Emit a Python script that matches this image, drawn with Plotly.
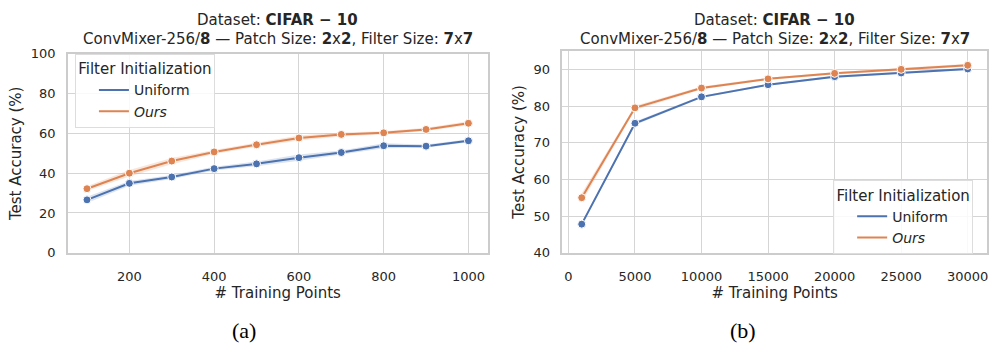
import plotly.graph_objects as go

# ---- data ----
x_a = [100, 200, 300, 400, 500, 600, 700, 800, 900, 1000]
uniform_a = [26.6, 34.9, 38.1, 42.3, 44.7, 47.8, 50.4, 53.8, 53.6, 56.3]
ours_a = [32.2, 40.0, 46.1, 50.7, 54.3, 57.7, 59.5, 60.3, 62.0, 65.1]
uniform_a_err = [1.6, 1.2, 1.0, 1.0, 1.2, 1.6, 1.0, 1.2, 0.8, 0.8]
ours_a_err = [1.2, 1.6, 1.6, 1.0, 1.0, 1.2, 1.0, 0.8, 0.8, 1.0]

x_b = [1000, 5000, 10000, 15000, 20000, 25000, 30000]
uniform_b = [47.8, 75.3, 82.5, 85.8, 88.0, 89.0, 90.1]
ours_b = [55.0, 79.5, 84.9, 87.4, 88.9, 90.0, 91.1]
uniform_b_err = [0.4, 0.5, 0.3, 0.3, 0.3, 0.3, 0.3]
ours_b_err = [1.2, 0.6, 0.4, 0.3, 0.3, 0.3, 0.4]

ticks_a_x = [200, 400, 600, 800, 1000]
ticks_a_y = [0, 20, 40, 60, 80, 100]
ticks_b_x = [0, 5000, 10000, 15000, 20000, 25000, 30000]
ticks_b_y = [40, 50, 60, 70, 80, 90]

series_names = ["Uniform", "<i>Ours</i>"]
colors = ["#4c72b0", "#dd8452"]
bands = ["rgba(76,114,176,0.2)", "rgba(221,132,82,0.2)"]

title_l1 = "Dataset: <b>CIFAR − 10</b>"
title_l2 = "ConvMixer-256/<b>8</b> — Patch Size: <b>2</b>x<b>2</b>, Filter Size: <b>7</b>x<b>7</b>"
captions = ["(a)", "(b)"]

W, H = 992, 343
FONT = "DejaVu Sans"
TXT = "#262626"

fig = go.Figure()


def add_panel(xs, ys_list, errs_list, xa, ya, legend_name):
    for i, (ys, errs) in enumerate(zip(ys_list, errs_list)):
        up = [y + e for y, e in zip(ys, errs)]
        lo = [y - e for y, e in zip(ys, errs)]
        fig.add_trace(go.Scatter(x=xs + xs[::-1], y=up + lo[::-1], fill="toself",
                                 fillcolor=bands[i], line=dict(width=0), mode="lines",
                                 hoverinfo="skip", showlegend=False, xaxis=xa, yaxis=ya))
    for i, ys in enumerate(ys_list):
        fig.add_trace(go.Scatter(x=xs, y=ys, mode="lines+markers", name=series_names[i],
                                 line=dict(color=colors[i], width=2),
                                 marker=dict(size=8, color=colors[i], line=dict(color="white", width=1)),
                                 showlegend=False, xaxis=xa, yaxis=ya))
    # legend entries (lines only, as in the reference)
    for i in range(len(ys_list)):
        fig.add_trace(go.Scatter(x=[None], y=[None], mode="lines", name=series_names[i],
                                 line=dict(color=colors[i], width=2),
                                 showlegend=True, legend=legend_name, xaxis=xa, yaxis=ya))


add_panel(x_a, [uniform_a, ours_a], [uniform_a_err, ours_a_err], "x", "y", "legend")
add_panel(x_b, [uniform_b, ours_b], [uniform_b_err, ours_b_err], "x2", "y2", "legend2")


def px_x(p):
    return p / W


def px_y(p):
    return 1 - p / H


common = dict(showgrid=True, gridcolor="#d5d5d5", gridwidth=1.2, zeroline=False,
              showline=True, linecolor="#cccccc", linewidth=1.5, mirror=True,
              ticks="outside", tickcolor="rgba(0,0,0,0)",
              tickfont=dict(family=FONT, size=13, color=TXT),
              title_font=dict(family=FONT, size=15, color=TXT))
xcommon = dict(common, ticklen=11)
ycommon = dict(common, ticklen=8)

legend_common = dict(xanchor="left", yanchor="top",
                     bgcolor="rgba(255,255,255,0.85)", bordercolor="#dddddd", borderwidth=1,
                     title=dict(text="Filter Initialization", side="top center",
                                font=dict(family=FONT, size=15, color=TXT)),
                     font=dict(family=FONT, size=14, color=TXT), itemwidth=30,
                     indentation=18, tracegroupgap=0)

fig.update_layout(
    width=W, height=H, margin=dict(l=0, r=0, t=0, b=0),
    paper_bgcolor="white", plot_bgcolor="white",
    font=dict(family=FONT, color=TXT),
    xaxis=dict(domain=[px_x(68), px_x(488)], range=[55, 1045], tickvals=ticks_a_x,
               ticktext=[str(v) for v in ticks_a_x],
               title=dict(text="# Training Points", standoff=2), anchor="y", **xcommon),
    yaxis=dict(domain=[px_y(257), px_y(49)], range=[0, 100], tickvals=ticks_a_y,
               ticktext=[str(v) for v in ticks_a_y],
               title=dict(text="Test Accuracy (%)", standoff=5), anchor="x", **ycommon),
    xaxis2=dict(domain=[px_x(563), px_x(988)], range=[-450, 31450], tickvals=ticks_b_x,
                ticktext=[str(v) for v in ticks_b_x],
                title=dict(text="# Training Points", standoff=2), anchor="y2", **xcommon),
    yaxis2=dict(domain=[px_y(257), px_y(46)], range=[40, 95], tickvals=ticks_b_y,
                ticktext=[str(v) for v in ticks_b_y],
                title=dict(text="Test Accuracy (%)", standoff=5), anchor="x2", **ycommon),
    legend=dict(x=px_x(75), y=px_y(49), **legend_common),
    legend2=dict(x=px_x(834), y=px_y(181), **legend_common),
)

for xc in [(68 + 488) / 2, (563 + 988) / 2]:
    fig.add_annotation(x=px_x(xc), y=px_y(14), xref="paper", yref="paper", text=title_l1,
                       showarrow=False, font=dict(family=FONT, size=15, color=TXT),
                       xanchor="center", yanchor="middle")
    fig.add_annotation(x=px_x(xc), y=px_y(33), xref="paper", yref="paper", text=title_l2,
                       showarrow=False, font=dict(family=FONT, size=15, color=TXT),
                       xanchor="center", yanchor="middle")
for xc, cap in zip([244, 744], captions):
    fig.add_annotation(x=px_x(xc), y=px_y(338), xref="paper", yref="paper", text=cap,
                       showarrow=False, font=dict(family="Liberation Serif", size=22, color="black"),
                       xanchor="center", yanchor="middle")

fig.write_html("out.html")
